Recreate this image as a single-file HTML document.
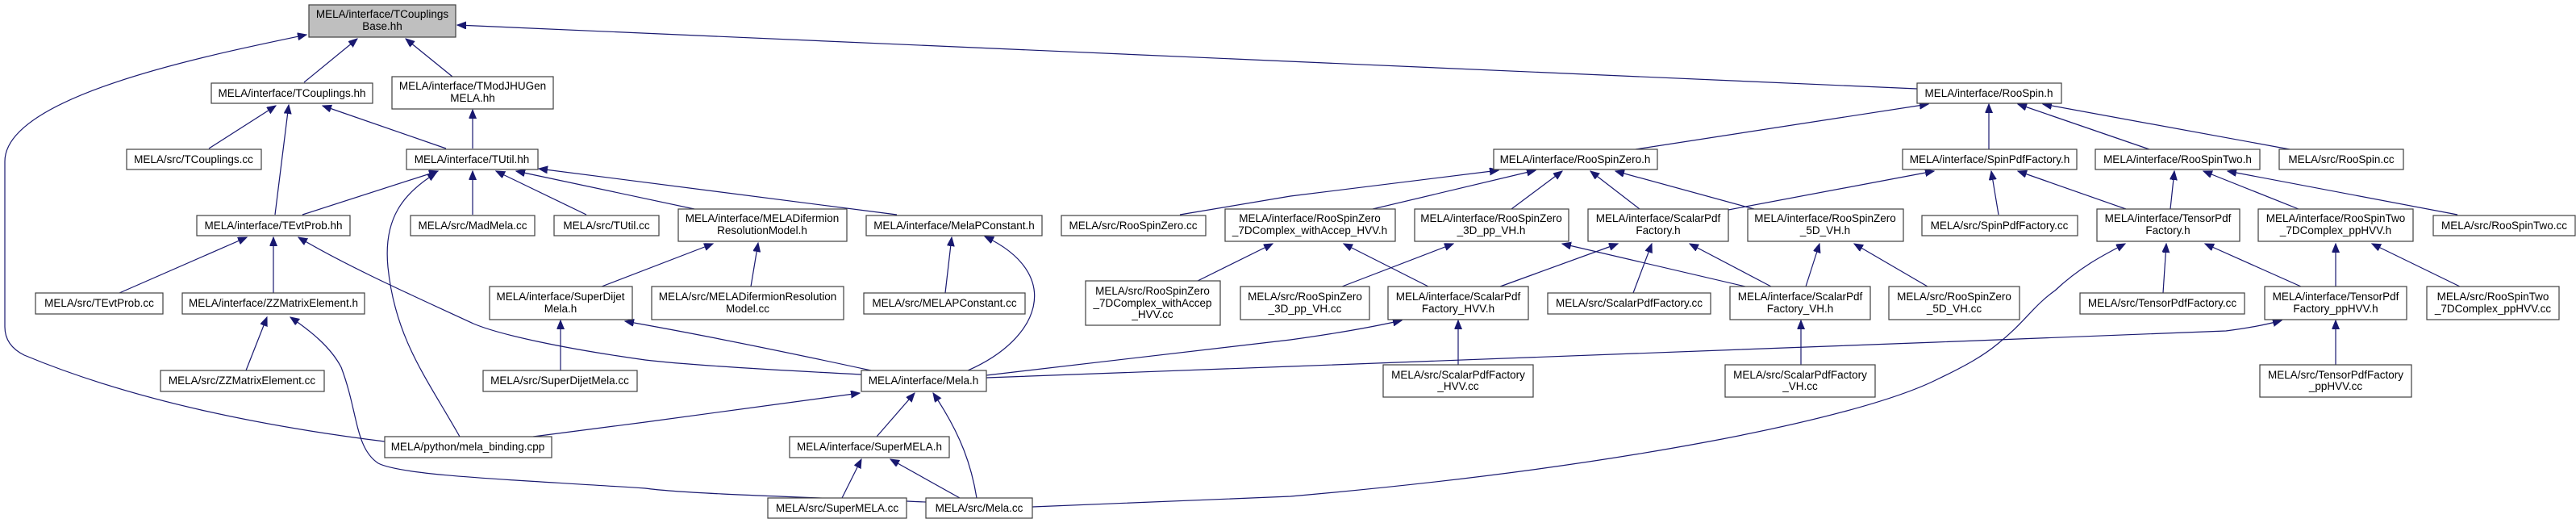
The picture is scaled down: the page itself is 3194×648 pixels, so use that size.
<!DOCTYPE html>
<html><head><meta charset="utf-8"><style>
html,body{margin:0;padding:0;background:#fff;}
svg{display:block;}
text{font-family:"Liberation Sans",Arial,sans-serif;font-size:13.5px;fill:#000;text-anchor:middle;}
.n{fill:#fff;stroke:#404040;stroke-width:1.2;}
.g{fill:#bfbfbf;stroke:#404040;stroke-width:1.2;}
.e{fill:none;stroke:#191970;stroke-width:1.2;marker-end:url(#a);}
</style></head><body>
<svg width="3194" height="648" viewBox="0 0 3194 648" xmlns="http://www.w3.org/2000/svg">
<defs><marker id="a" markerUnits="userSpaceOnUse" markerWidth="12" markerHeight="10" refX="11" refY="4.5" orient="auto"><path d="M0,0 L11,4.5 L0,9 z" fill="#191970" stroke="#191970"/></marker></defs>
<g>
<path class="e" d="M377,102 L443,48"/>
<path class="e" d="M561,95 L503,48"/>
<path class="e" d="M477,547 C300,525 150,490 30,440 Q6,428 6,405 L6,200 C6,120 250,70 380,43"/>
<path class="e" d="M2377,110 Q1500,70 567,31"/>
<path class="e" d="M259,184 L342,131"/>
<path class="e" d="M341,266 L358,130"/>
<path class="e" d="M553,184 L400,131"/>
<path class="e" d="M586,184 L586,136"/>
<path class="e" d="M375,266 L543,212"/>
<path class="e" d="M570,541 C530,470 490,420 481,331 C475,270 500,240 541,214"/>
<path class="e" d="M586,266 L586,212"/>
<path class="e" d="M727,266 L615,212"/>
<path class="e" d="M861,259 L640,212"/>
<path class="e" d="M1112,266 L668,209"/>
<path class="e" d="M148,363 L306,294"/>
<path class="e" d="M339,363 L339,294"/>
<path class="e" d="M1068,464 C950,458 850,452 800,446 C700,432 620,415 587,401 C520,370 430,330 370,294"/>
<path class="e" d="M305,459 L331,393"/>
<path class="e" d="M1148,622 C1000,616 850,612 800,605 C650,595 500,590 469,574 C440,555 444,510 423,455 C410,430 385,410 360,393"/>
<path class="e" d="M695,459 L695,397"/>
<path class="e" d="M746,355 L884,302"/>
<path class="e" d="M661,541 L800,523 L1066,487"/>
<path class="e" d="M931,355 L940,301"/>
<path class="e" d="M1080,459 Q900,420 775,398"/>
<path class="e" d="M1172,363 L1180,294"/>
<path class="e" d="M1200,459 C1290,420 1320,340 1221,293"/>
<path class="e" d="M1087,541 L1134,487"/>
<path class="e" d="M1211,617 C1205,580 1193,540 1157,487"/>
<path class="e" d="M1044,617 L1068,569"/>
<path class="e" d="M1190,617 L1104,569"/>
<path class="e" d="M1463,266 L1600,243 L1858,211"/>
<path class="e" d="M1702,259 L1904,211"/>
<path class="e" d="M1485,348 L1578,302"/>
<path class="e" d="M1223,465 L1600,421 Q1680,410 1738,397"/>
<path class="e" d="M1223,468 L1600,454 L2400,424 L2760,410 Q2800,405 2829,397"/>
<path class="e" d="M1280,628 L1600,615 C2000,580 2300,520 2400,471 C2440,452 2460,440 2477,426 C2510,400 2520,380 2548,360 C2580,330 2610,315 2635,302"/>
<path class="e" d="M2028,185 L2391,129"/>
<path class="e" d="M1874,259 L1937,212"/>
<path class="e" d="M2033,259 L1972,212"/>
<path class="e" d="M2175,259 L2003,212"/>
<path class="e" d="M2143,260 L2398,212"/>
<path class="e" d="M1664,355 L1802,302"/>
<path class="e" d="M1771,355 L1666,302"/>
<path class="e" d="M1860,355 L2006,302"/>
<path class="e" d="M2025,363 L2048,302"/>
<path class="e" d="M2164,355 L1937,302"/>
<path class="e" d="M2196,355 L2095,302"/>
<path class="e" d="M2239,355 L2256,302"/>
<path class="e" d="M2390,355 L2299,302"/>
<path class="e" d="M1808,452 L1808,397"/>
<path class="e" d="M2233,452 L2233,397"/>
<path class="e" d="M2466,185 L2466,129"/>
<path class="e" d="M2665,185 L2502,129"/>
<path class="e" d="M2839,185 L2533,129"/>
<path class="e" d="M2478,266 L2469,212"/>
<path class="e" d="M2636,259 L2502,212"/>
<path class="e" d="M2691,259 L2696,212"/>
<path class="e" d="M2850,259 L2732,212"/>
<path class="e" d="M3047,266 L2762,212"/>
<path class="e" d="M2682,363 L2686,302"/>
<path class="e" d="M2853,355 L2734,302"/>
<path class="e" d="M2896,355 L2896,302"/>
<path class="e" d="M3050,355 L2941,302"/>
<path class="e" d="M2896,452 L2896,397"/>
</g>
<g>
<rect class="g" x="383" y="6" width="182" height="40"/><text x="474" y="22">MELA/interface/TCouplings</text><text x="474" y="37">Base.hh</text>
<rect class="n" x="262" y="103" width="200" height="25"/><text x="362" y="120">MELA/interface/TCouplings.hh</text>
<rect class="n" x="486" y="95" width="200" height="40"/><text x="586" y="111">MELA/interface/TModJHUGen</text><text x="586" y="126">MELA.hh</text>
<rect class="n" x="157" y="185" width="167" height="25"/><text x="240" y="202">MELA/src/TCouplings.cc</text>
<rect class="n" x="504" y="185" width="163" height="25"/><text x="585" y="202">MELA/interface/TUtil.hh</text>
<rect class="n" x="244" y="267" width="190" height="25"/><text x="339" y="284">MELA/interface/TEvtProb.hh</text>
<rect class="n" x="509" y="267" width="154" height="25"/><text x="586" y="284">MELA/src/MadMela.cc</text>
<rect class="n" x="687" y="267" width="130" height="25"/><text x="752" y="284">MELA/src/TUtil.cc</text>
<rect class="n" x="841" y="259" width="209" height="40"/><text x="945" y="275">MELA/interface/MELADifermion</text><text x="945" y="290">ResolutionModel.h</text>
<rect class="n" x="1074" y="267" width="218" height="25"/><text x="1183" y="284">MELA/interface/MelaPConstant.h</text>
<rect class="n" x="1316" y="267" width="179" height="25"/><text x="1405" y="284">MELA/src/RooSpinZero.cc</text>
<rect class="n" x="1519" y="259" width="211" height="40"/><text x="1624" y="275">MELA/interface/RooSpinZero</text><text x="1624" y="290">_7DComplex_withAccep_HVV.h</text>
<rect class="n" x="1754" y="259" width="191" height="40"/><text x="1849" y="275">MELA/interface/RooSpinZero</text><text x="1849" y="290">_3D_pp_VH.h</text>
<rect class="n" x="1969" y="259" width="174" height="40"/><text x="2056" y="275">MELA/interface/ScalarPdf</text><text x="2056" y="290">Factory.h</text>
<rect class="n" x="2167" y="259" width="193" height="40"/><text x="2263" y="275">MELA/interface/RooSpinZero</text><text x="2263" y="290">_5D_VH.h</text>
<rect class="n" x="2383" y="267" width="193" height="25"/><text x="2479" y="284">MELA/src/SpinPdfFactory.cc</text>
<rect class="n" x="2600" y="259" width="177" height="40"/><text x="2688" y="275">MELA/interface/TensorPdf</text><text x="2688" y="290">Factory.h</text>
<rect class="n" x="2800" y="259" width="192" height="40"/><text x="2896" y="275">MELA/interface/RooSpinTwo</text><text x="2896" y="290">_7DComplex_ppHVV.h</text>
<rect class="n" x="3017" y="267" width="176" height="25"/><text x="3105" y="284">MELA/src/RooSpinTwo.cc</text>
<rect class="n" x="2377" y="103" width="179" height="25"/><text x="2466" y="120">MELA/interface/RooSpin.h</text>
<rect class="n" x="1852" y="185" width="203" height="25"/><text x="1953" y="202">MELA/interface/RooSpinZero.h</text>
<rect class="n" x="2359" y="185" width="216" height="25"/><text x="2467" y="202">MELA/interface/SpinPdfFactory.h</text>
<rect class="n" x="2598" y="185" width="204" height="25"/><text x="2700" y="202">MELA/interface/RooSpinTwo.h</text>
<rect class="n" x="2826" y="185" width="154" height="25"/><text x="2903" y="202">MELA/src/RooSpin.cc</text>
<rect class="n" x="44" y="363" width="158" height="26"/><text x="123" y="380">MELA/src/TEvtProb.cc</text>
<rect class="n" x="226" y="363" width="226" height="26"/><text x="339" y="380">MELA/interface/ZZMatrixElement.h</text>
<rect class="n" x="1071" y="363" width="200" height="26"/><text x="1171" y="380">MELA/src/MELAPConstant.cc</text>
<rect class="n" x="1919" y="363" width="202" height="26"/><text x="2020" y="380">MELA/src/ScalarPdfFactory.cc</text>
<rect class="n" x="2579" y="363" width="204" height="26"/><text x="2681" y="380">MELA/src/TensorPdfFactory.cc</text>
<rect class="n" x="607" y="355" width="177" height="41"/><text x="695" y="372">MELA/interface/SuperDijet</text><text x="695" y="387">Mela.h</text>
<rect class="n" x="808" y="355" width="238" height="41"/><text x="927" y="372">MELA/src/MELADifermionResolution</text><text x="927" y="387">Model.cc</text>
<rect class="n" x="1538" y="355" width="160" height="41"/><text x="1618" y="372">MELA/src/RooSpinZero</text><text x="1618" y="387">_3D_pp_VH.cc</text>
<rect class="n" x="1721" y="355" width="174" height="41"/><text x="1808" y="372">MELA/interface/ScalarPdf</text><text x="1808" y="387">Factory_HVV.h</text>
<rect class="n" x="2145" y="355" width="174" height="41"/><text x="2232" y="372">MELA/interface/ScalarPdf</text><text x="2232" y="387">Factory_VH.h</text>
<rect class="n" x="2342" y="355" width="162" height="41"/><text x="2423" y="372">MELA/src/RooSpinZero</text><text x="2423" y="387">_5D_VH.cc</text>
<rect class="n" x="2808" y="355" width="176" height="41"/><text x="2896" y="372">MELA/interface/TensorPdf</text><text x="2896" y="387">Factory_ppHVV.h</text>
<rect class="n" x="3009" y="355" width="164" height="41"/><text x="3091" y="372">MELA/src/RooSpinTwo</text><text x="3091" y="387">_7DComplex_ppHVV.cc</text>
<rect class="n" x="1346" y="348" width="167" height="55"/><text x="1429" y="365">MELA/src/RooSpinZero</text><text x="1429" y="380">_7DComplex_withAccep</text><text x="1429" y="394">_HVV.cc</text>
<rect class="n" x="199" y="459" width="203" height="26"/><text x="300" y="476">MELA/src/ZZMatrixElement.cc</text>
<rect class="n" x="599" y="459" width="191" height="26"/><text x="694" y="476">MELA/src/SuperDijetMela.cc</text>
<rect class="n" x="1068" y="459" width="155" height="26"/><text x="1145" y="476">MELA/interface/Mela.h</text>
<rect class="n" x="1715" y="452" width="186" height="40"/><text x="1808" y="469">MELA/src/ScalarPdfFactory</text><text x="1808" y="483">_HVV.cc</text>
<rect class="n" x="2139" y="452" width="186" height="40"/><text x="2232" y="469">MELA/src/ScalarPdfFactory</text><text x="2232" y="483">_VH.cc</text>
<rect class="n" x="2802" y="452" width="188" height="40"/><text x="2896" y="469">MELA/src/TensorPdfFactory</text><text x="2896" y="483">_ppHVV.cc</text>
<rect class="n" x="477" y="541" width="207" height="26"/><text x="580" y="558">MELA/python/mela_binding.cpp</text>
<rect class="n" x="979" y="541" width="198" height="26"/><text x="1078" y="558">MELA/interface/SuperMELA.h</text>
<rect class="n" x="952" y="617" width="172" height="25"/><text x="1038" y="634">MELA/src/SuperMELA.cc</text>
<rect class="n" x="1148" y="617" width="132" height="25"/><text x="1214" y="634">MELA/src/Mela.cc</text>
</g>
</svg>
</body></html>
